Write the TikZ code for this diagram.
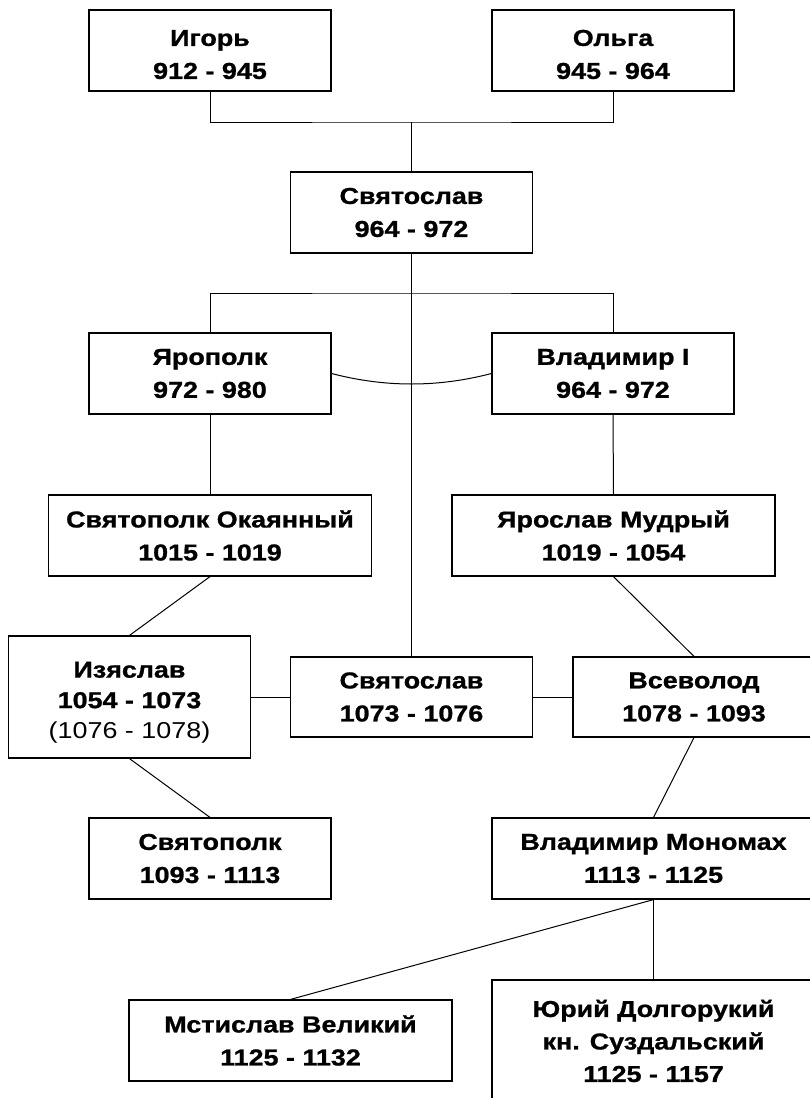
\documentclass[tikz,border=0pt]{standalone}
\usepackage{fontspec}
\setmainfont{Liberation Sans}[FakeStretch=1.17, BoldFeatures={FakeBold=1}]
\newcommand{\topstrut}[1]{\rule{0pt}{#1}}
\begin{document}
\begin{tikzpicture}[x=1pt,y=-1pt,
  box/.style={draw=black, line width=1.2pt, rectangle, inner sep=0pt, align=center,
    minimum height=81pt, font=\fontsize{23}{33}\selectfont\bfseries},
  wa/.style={box, minimum width=242pt},
  wb/.style={box, minimum width=323pt},
  conn/.style={draw=black, line width=1pt}]
\useasboundingbox (0,0) rectangle (810,1098);
\clip (0,0) rectangle (810,1098);
% boxes
\node[wa] (igor) at (210,50.5) {\topstrut{24pt}Игорь\\912 - 945};
\node[wa] (olga) at (613,50.5) {\topstrut{24pt}Ольга\\945 - 964};
\node[wa] (svy1) at (411.5,212.5) {Святослав\\964 - 972};
\node[wa] (yaropolk) at (210,373.5) {Ярополк\\972 - 980};
\node[wa] (vlad1) at (613,373.5) {Владимир I\\964 - 972};
\node[wb] (svpok) at (210,535.5) {Святополк Окаянный\\1015 - 1019};
\node[wb] (yarmud) at (613.5,535.5) {Ярослав Мудрый\\1019 - 1054};
\node[wa, minimum height=122pt, font=\fontsize{23}{30.5}\selectfont\bfseries] (izyaslav) at (129.5,697) {\topstrut{27pt}Изяслав\\1054 - 1073\\{\mdseries (1076 - 1078)}};
\node[wa, minimum height=80pt] (svy2) at (411.5,697) {Святослав\\1073 - 1076};
\node[wa, minimum height=80pt] (vsevolod) at (694,697) {Всеволод\\1078 - 1093};
\node[wa] (svpolk2) at (210,858.5) {Святополк\\1093 - 1113};
\node[wb] (monomakh) at (653.5,858.5) {Владимир Мономах\\1113 - 1125};
\node[wb] (mstislav) at (290.5,1040.5) {Мстислав Великий\\1125 - 1132};
\node[wb, minimum height=122pt, font=\fontsize{23}{32.5}\selectfont\bfseries] (yuri) at (653.5,1041) {Юрий Долгорукий\\кн. Суздальский\\1125 - 1157};
% junctions
\coordinate (j1) at (411.5,122);
\coordinate (j2) at (411.5,293);
% connectors
\draw[conn] (igor.south) |- (j1) -| (olga.south);
\draw[conn] (j1) -- (svy1.north);
\draw[conn] (yaropolk.north) |- (j2) -| (vlad1.north);
\draw[conn] (svy1.south) -- (svy2.north);
\draw[conn] (yaropolk.east) .. controls (385,387.5) and (438,387.5) .. (vlad1.west);
\draw[conn] (yaropolk.south) -- (svpok.north);
\draw[conn] (vlad1.south) -- (yarmud.north);
\draw[conn] (svpok.south) -- (izyaslav.north);
\draw[conn] (yarmud.south) -- (vsevolod.north);
\draw[conn] (izyaslav.east) -- (svy2.west);
\draw[conn] (svy2.east) -- (vsevolod.west);
\draw[conn] (izyaslav.south) -- (svpolk2.north);
\draw[conn] (vsevolod.south) -- (monomakh.north);
\draw[conn] (monomakh.south) -- (mstislav.north);
\draw[conn] (monomakh.south) -- (yuri.north);
\end{tikzpicture}
\end{document}
